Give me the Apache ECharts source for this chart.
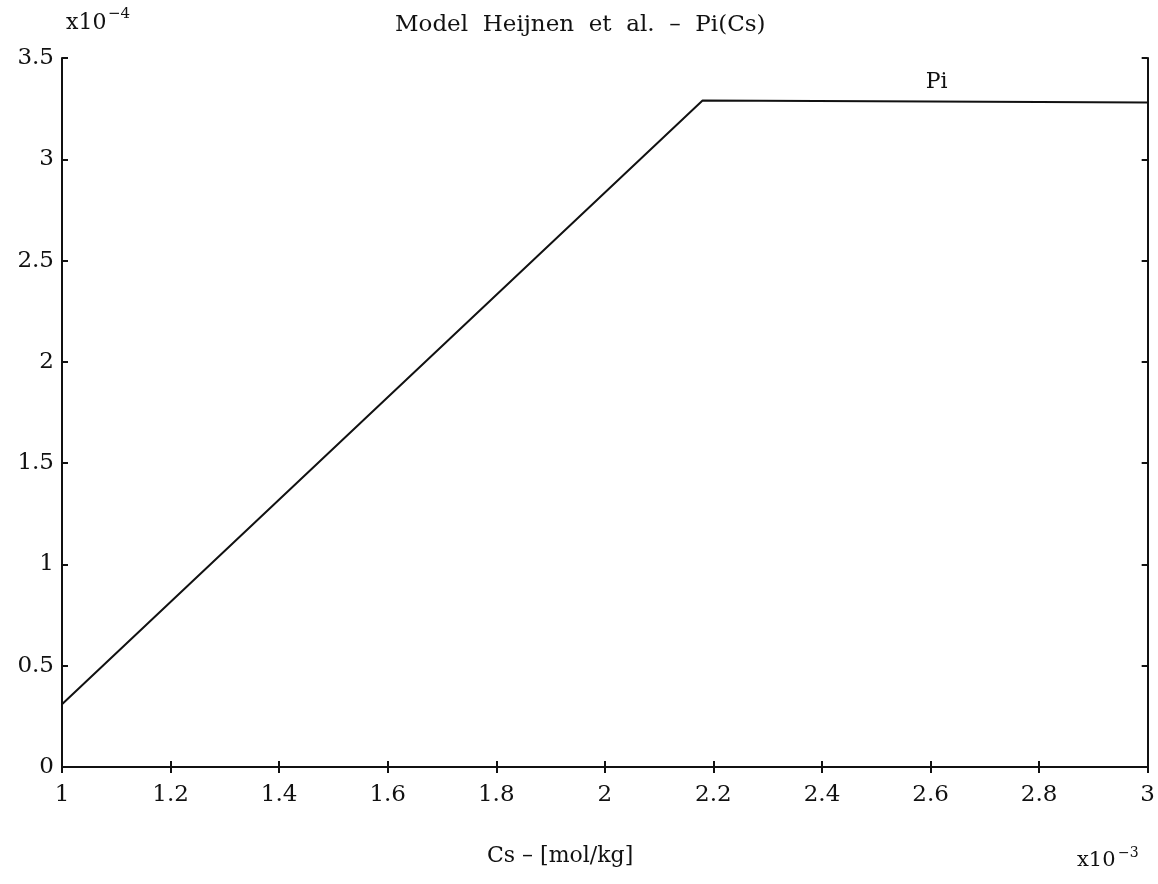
<!DOCTYPE html>
<html><head><meta charset="utf-8">
<script src="https://cdn.jsdelivr.net/npm/echarts@6/dist/echarts.min.js"></script>
<style>html,body{margin:0;padding:0;background:#fff}#c{width:1158px;height:884px}</style>
</head><body><div id="c"></div>
<script>
const seriesName = 'Pi';
const csValues = [1.0, 2.18, 2.6, 3.0];
const piValues = [0.31, 3.29, 3.285, 3.28];
const labelIndex = 2;
const xTicks = ['1','1.2','1.4','1.6','1.8','2','2.2','2.4','2.6','2.8','3'];
const yTicks = ['0','0.5','1','1.5','2','2.5','3','3.5'];

const FONT = 'DejaVu Serif';
const chart = echarts.init(document.getElementById('c'));
const data = csValues.map((x, i) => ({
  value: [x, piValues[i]],
  label: i === labelIndex ? {show: true, formatter: seriesName, position: 'top', distance: 8, offset: [6, 0],
    fontFamily: FONT, fontSize: 22, color: '#111'} : {show: false}
}));
const axisLine = {show: true, lineStyle: {color: '#111', width: 2}};
const tickIn = {show: true, inside: true, length: 6, lineStyle: {color: '#111', width: 2}};
const fmtX = v => { const i = Math.round((v - 1) / 0.2); return xTicks[i] ?? ''; };
const fmtY = v => { const i = Math.round(v / 0.5); return yTicks[i] ?? ''; };
chart.setOption({
  animation: false,
  backgroundColor: '#fff',
  title: [
    {text: 'Model  Heijnen  et  al.  –  Pi(Cs)', left: 390, top: 9,
     textStyle: {fontFamily: FONT, fontWeight: 'normal', fontSize: 23, color: '#111'}},
  ],
  graphic: [
    {type: 'text', left: 66, top: 12, style: {text: 'x10', font: '22px "DejaVu Serif"', fill: '#111'}},
    {type: 'text', left: 108, top: 7, style: {text: '−4', font: '15px "DejaVu Serif"', fill: '#111'}},
    {type: 'text', left: 1077, top: 850, style: {text: 'x10', font: '21px "DejaVu Serif"', fill: '#111'}},
    {type: 'text', left: 1118, top: 846, style: {text: '−3', font: '14px "DejaVu Serif"', fill: '#111'}},
    {type: 'text', left: 487, top: 845, style: {text: 'Cs – [mol/kg]', font: '22px "DejaVu Serif"', fill: '#111'}}
  ],
  grid: {left: 62, right: 8, top: 58, bottom: 117, show: false},
  xAxis: [
    {type: 'value', min: 1, max: 3, interval: 0.2, position: 'bottom',
     axisLine, axisTick: tickIn, splitLine: {show: false},
     axisLabel: {formatter: fmtX, margin: 17, fontFamily: FONT, fontSize: 23, color: '#111'}},
    {type: 'value', min: 1, max: 3, interval: 0.2, position: 'top',
     axisLine, axisTick: tickIn, splitLine: {show: false}, axisLabel: {show: false}}
  ],
  yAxis: [
    {type: 'value', min: 0, max: 3.5, interval: 0.5, position: 'left',
     axisLine, axisTick: tickIn, splitLine: {show: false},
     axisLabel: {formatter: fmtY, margin: 8, fontFamily: FONT, fontSize: 23, color: '#111'}},
    {type: 'value', min: 0, max: 3.5, interval: 0.5, position: 'right',
     axisLine, axisTick: tickIn, splitLine: {show: false}, axisLabel: {show: false}}
  ],
  series: [{
    name: seriesName, type: 'line', data, showSymbol: true, symbol: 'circle', symbolSize: 0,
    lineStyle: {color: '#111', width: 2}, itemStyle: {color: '#111'}, label: {show: false}
  }]
});
</script></body></html>
